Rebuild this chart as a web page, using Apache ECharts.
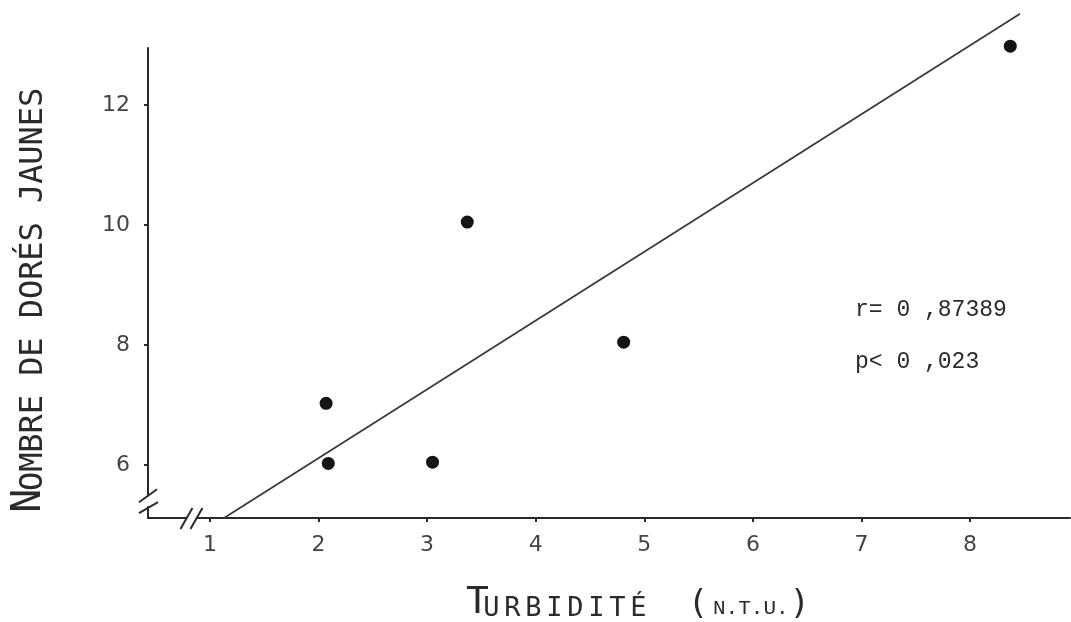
<!DOCTYPE html>
<html><head><meta charset="utf-8">
<script src="https://cdn.jsdelivr.net/npm/echarts@6/dist/echarts.min.js"></script>
<style>html,body{margin:0;padding:0;background:#fff}#c{width:1071px;height:622px}</style>
</head><body><div id="c"></div>
<script>
// ---- data ----
const turbidity = [2.07, 2.09, 3.05, 3.37, 4.81, 8.37];
const walleyeCount = [7.03, 6.03, 6.05, 10.05, 8.05, 12.98];
const fitX = [1.13, 8.46];
const fitY = [5.12, 13.52];
const xTicks = [1, 2, 3, 4, 5, 6, 7, 8];
const yTicks = [6, 8, 10, 12];
const xRange = [0.43, 8.92];
const yRange = [5.12, 12.95];
const xBreakAt = 0.83;
const yBreakAt = 5.40;
const xTitle = 'Turbidité';
const xUnit = 'N.T.U.';
const yTitle = 'Nombre de dorés jaunes';
const statLines = ['r= 0 ,87389', 'p< 0 ,023'];

const INK = '#2a2a2a';
const MONO = '"DejaVu Sans Mono", "Liberation Mono", monospace';

function capsRich(str) {
  return str.toUpperCase().split('').map((ch, i) => '{' + (i === 0 ? 'b' : 's') + '|' + ch + '}').join('');
}

const chart = echarts.init(document.getElementById('c'), null, {renderer: 'canvas'});

const option = {
  animation: false,
  backgroundColor: '#fff',
  grid: {left: 148, right: 1, top: 48, bottom: 104, containLabel: false},
  xAxis: {
    type: 'value', min: xRange[0], max: xRange[1],
    splitLine: {show: false},
    axisLine: {show: true, lineStyle: {color: INK, width: 2}},
    axisTick: {show: true, customValues: xTicks, length: 4, inside: false, lineStyle: {color: INK, width: 2}},
    axisLabel: {customValues: xTicks, margin: 16, color: '#444', fontSize: 22, fontFamily: '"DejaVu Sans", sans-serif'}
  },
  yAxis: {
    type: 'value', min: yRange[0], max: yRange[1],
    splitLine: {show: false},
    axisLine: {show: true, lineStyle: {color: INK, width: 2}},
    axisTick: {show: true, customValues: yTicks, length: 4, lineStyle: {color: INK, width: 2}},
    axisLabel: {customValues: yTicks, margin: 18, color: '#444', fontSize: 22, fontFamily: '"DejaVu Sans", sans-serif'}
  },
  series: [
    {
      type: 'line', data: fitX.map((x, i) => [x, fitY[i]]),
      clip: false, symbol: 'none', silent: true,
      lineStyle: {color: '#3a3a3a', width: 1.8}
    },
    {
      type: 'scatter', data: turbidity.map((x, i) => [x, walleyeCount[i]]),
      symbol: 'circle', symbolSize: 13, clip: false,
      itemStyle: {color: '#141414', opacity: 1}
    }
  ],
  graphic: [
    {
      type: 'text', x: 30, y: 299, rotation: Math.PI / 2,
      style: {
        text: capsRich(yTitle), align: 'center', verticalAlign: 'middle', fill: INK,
        rich: {
          b: {fontSize: 40, fontFamily: MONO, width: 19.2, align: 'center', verticalAlign: 'bottom', fill: INK},
          s: {fontSize: 32, fontFamily: MONO, width: 19.2, align: 'center', verticalAlign: 'bottom', fill: INK}
        }
      }
    },
    {
      type: 'text', x: 466, y: 603,
      style: {
        text: capsRich(xTitle) + '{s| }{s| }{p|(}{g| }{n|' + xUnit + '}{p|)}', align: 'left', verticalAlign: 'middle', fill: INK,
        rich: {
          b: {fontSize: 38, fontFamily: MONO, width: 15, align: 'left', verticalAlign: 'bottom', fill: INK},
          s: {fontSize: 27, fontFamily: MONO, width: 21, align: 'center', verticalAlign: 'bottom', fill: INK},
          p: {fontSize: 34, fontFamily: MONO, width: 14, align: 'center', verticalAlign: 'bottom', fill: INK},
          g: {fontSize: 18, width: 8},
          n: {fontSize: 21, fontFamily: '"Liberation Mono", monospace', align: 'left', verticalAlign: 'bottom', fill: INK, padding: [0, 4, 3, 0]}
        }
      }
    },
    {
      type: 'text', x: 855, y: 310,
      style: {text: statLines[0], align: 'left', verticalAlign: 'middle', fill: INK, font: '23px "Liberation Mono", monospace'}
    },
    {
      type: 'text', x: 855, y: 362,
      style: {text: statLines[1], align: 'left', verticalAlign: 'middle', fill: INK, font: '23px "Liberation Mono", monospace'}
    }
  ]
};
chart.setOption(option);

// axis break marks
const yb = chart.convertToPixel({gridIndex: 0}, [xRange[0], yBreakAt]);
const xb = chart.convertToPixel({gridIndex: 0}, [xBreakAt, yRange[0]]);
const seg = (x1, y1, x2, y2) => ({type: 'line', shape: {x1, y1, x2, y2}, style: {stroke: INK, lineWidth: 2}, z: 100});
const breakGraphics = [
  {type: 'rect', shape: {x: yb[0] - 4, y: yb[1] - 5, width: 8, height: 10}, style: {fill: '#fff'}, z: 99},
  seg(yb[0] - 9, yb[1] + 1, yb[0] + 9, yb[1] - 12),
  seg(yb[0] - 9, yb[1] + 12, yb[0] + 10, yb[1] + 1),
  {type: 'rect', shape: {x: xb[0] - 5, y: xb[1] - 4, width: 10, height: 8}, style: {fill: '#fff'}, z: 99},
  seg(xb[0] - 11, xb[1] + 11, xb[0] + 1, xb[1] - 10),
  seg(xb[0] - 1, xb[1] + 11, xb[0] + 11, xb[1] - 10)
];
chart.setOption({graphic: option.graphic.concat(breakGraphics)});
</script>
</body></html>
